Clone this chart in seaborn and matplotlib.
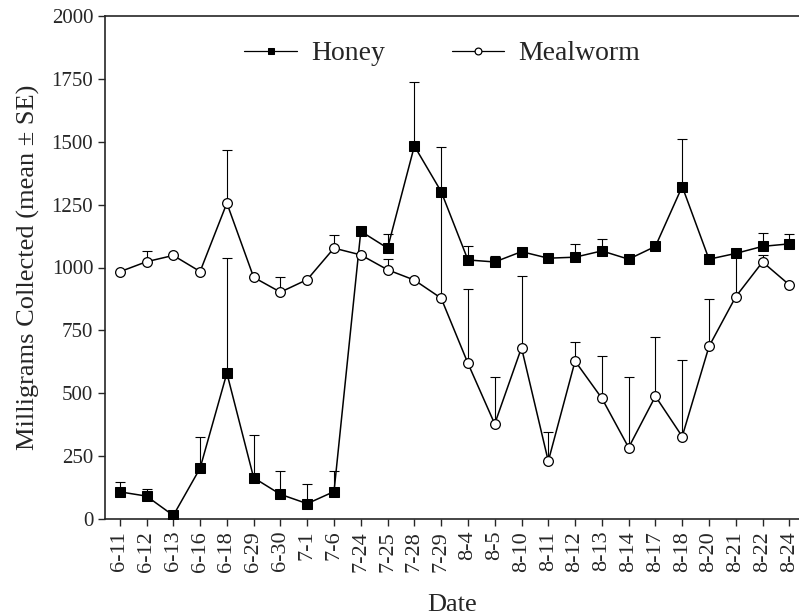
import numpy as np
import pandas as pd
import matplotlib
matplotlib.use("Agg")
import matplotlib.pyplot as plt
import seaborn as sns

# Collection dates (x categories)
DATES = ["6-11", "6-12", "6-13", "6-16", "6-18", "6-29", "6-30",
         "7-1", "7-6", "7-24", "7-25", "7-28", "7-29",
         "8-4", "8-5", "8-10", "8-11", "8-12", "8-13", "8-14",
         "8-17", "8-18", "8-20", "8-21", "8-22", "8-24"]

# Mean milligrams collected
HONEY_MEAN = [108, 91, 14, 202, 580, 164, 98, 61, 109, 1144, 1077, 1483, 1302,
              1030, 1022, 1063, 1037, 1041, 1066, 1033, 1084, 1322, 1033, 1056, 1084, 1094]
MEALWORM_MEAN = [983, 1023, 1048, 984, 1256, 961, 902, 952, 1077, 1050, 991, 950, 878,
                 619, 378, 681, 230, 628, 480, 284, 488, 328, 686, 884, 1022, 931]

# Standard errors (drawn upward only)
HONEY_SE = [39, 29, 0, 126, 459, 170, 93, 78, 82, 0, 57, 253, 178,
            54, 25, 0, 0, 51, 47, 0, 0, 187, 0, 0, 55, 40]
MEALWORM_SE = [0, 43, 0, 0, 210, 0, 59, 0, 51, 0, 43, 0, 424,
               294, 185, 286, 117, 74, 170, 282, 237, 306, 189, 172, 28, 0]

sns.set_style("ticks")
plt.rcParams['font.family'] = ['Liberation Serif', 'DejaVu Serif']

df = pd.DataFrame({
    'Date': DATES * 2,
    'Mg': HONEY_MEAN + MEALWORM_MEAN,
    'Food': ['Honey'] * len(DATES) + ['Mealworm'] * len(DATES),
})

fig = plt.figure(figsize=(7.99, 6.16), dpi=100)
ax = fig.add_axes([105 / 799, 97 / 616, 694 / 799, 503 / 616])

x = np.arange(len(DATES))

# upper-only error bars, drawn under the markers
ax.errorbar(x, HONEY_MEAN, yerr=[np.zeros(len(x)), HONEY_SE], fmt='none',
            ecolor='black', elinewidth=0.8, capsize=3.5, capthick=0.8, zorder=1)
ax.errorbar(x, MEALWORM_MEAN, yerr=[np.zeros(len(x)), MEALWORM_SE], fmt='none',
            ecolor='black', elinewidth=0.8, capsize=3.5, capthick=0.8, zorder=1)

df['x'] = np.tile(x, 2)
sns.lineplot(data=df, x='x', y='Mg', hue='Food', style='Food',
             palette={'Honey': 'black', 'Mealworm': 'black'},
             markers={'Honey': 's', 'Mealworm': 'o'}, dashes=False,
             sort=False, linewidth=1.1, markersize=7, ax=ax, zorder=3)

# white fill for the mealworm circles
for line in ax.lines:
    if line.get_marker() == 'o':
        line.set_markerfacecolor('white')
        line.set_markeredgecolor('black')
        line.set_markeredgewidth(0.9)
    elif line.get_marker() == 's':
        line.set_markerfacecolor('black')
        line.set_markeredgecolor('black')

ax.set_xlim(-0.55, 25.36)
ax.set_ylim(0, 2000)
ax.set_xticks(x)
ax.set_xticklabels(DATES, rotation=90, fontsize=16)
ax.set_yticks(np.arange(0, 2001, 250))
ax.tick_params(axis='y', labelsize=15, direction='out', length=5, width=1)
ax.tick_params(axis='x', direction='out', length=5, width=1)

ax.set_xlabel('Date', fontsize=19, labelpad=16)
ax.set_ylabel('Milligrams Collected (mean \u00b1 SE)', fontsize=19, labelpad=8)

for side in ['left', 'bottom', 'top']:
    ax.spines[side].set_linewidth(1.2)
    ax.spines[side].set_visible(True)
ax.spines['right'].set_visible(False)

leg = ax.legend(loc='upper center', bbox_to_anchor=(0.486, 1.0), ncol=2,
                frameon=False, fontsize=20, markerscale=0.7,
                handlelength=1.9, handletextpad=0.5, columnspacing=2.4)
for h in leg.legend_handles:
    if h.get_marker() == 'o':
        h.set_markerfacecolor('white')
    h.set_linewidth(0.9)

plt.savefig("out.png", dpi=100)
